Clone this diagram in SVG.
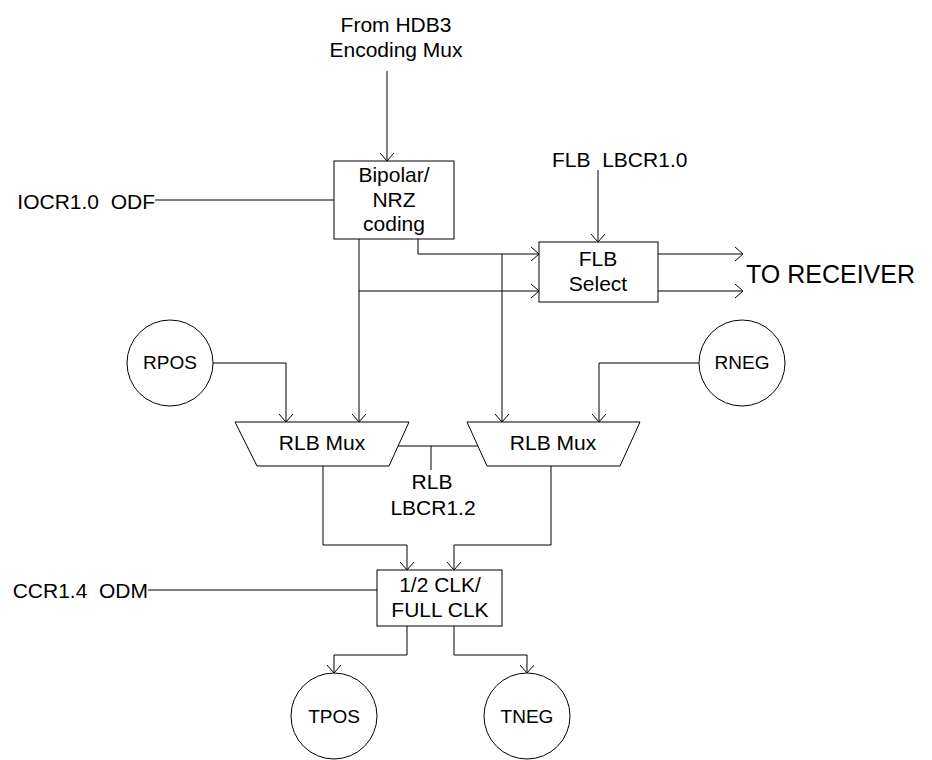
<svg xmlns="http://www.w3.org/2000/svg" width="932" height="760" viewBox="0 0 932 760">
<defs>
<marker id="arr" markerWidth="20" markerHeight="20" refX="10" refY="10" orient="auto" markerUnits="userSpaceOnUse" viewBox="0 0 20 20">
<path d="M2 3 L10 10 L2 17" fill="none" stroke="#000" stroke-width="1"/>
</marker>
<style>
text{font-family:"Liberation Sans",Arial,sans-serif;fill:#000;white-space:pre}
.t{font-size:21px}
.c{font-size:19px}
.m{text-anchor:middle}
.e{text-anchor:end}
.box{fill:#fff;stroke:#000;stroke-width:1}
.ln{fill:none;stroke:#000;stroke-width:1}
.ar{marker-end:url(#arr)}
</style>
</defs>
<g id="labels">
<text class="t m" x="396" y="32">From HDB3</text>
<text class="t m" x="396" y="57">Encoding Mux</text>
<text class="t e" x="155" y="209">IOCR1.0  ODF</text>
<text class="t" x="552" y="167">FLB  LBCR1.0</text>
<text x="746" y="283" style="font-size:25px">TO RECEIVER</text>
<text class="t m" x="432" y="489">RLB</text>
<text class="t m" x="433" y="515">LBCR1.2</text>
<text class="t e" x="148" y="598">CCR1.4  ODM</text>
</g>
<g id="connectors">
<path class="ln ar" d="M387 71 V161"/>
<path class="ln" d="M155 200 H334"/>
<path class="ln ar" d="M598 170 V242"/>
<path class="ln ar" d="M418 239 V254 H539"/>
<path class="ln ar" d="M359 291 H539"/>
<path class="ln ar" d="M359 239 V422"/>
<path class="ln ar" d="M502 254 V422"/>
<path class="ln ar" d="M658 254 H743"/>
<path class="ln ar" d="M658 291 H743"/>
<path class="ln ar" d="M213 363 H286 V422"/>
<path class="ln ar" d="M699 363 H599 V422"/>
<path class="ln" d="M398 446 H478 M431 446 V470"/>
<path class="ln ar" d="M323 466 V545 H407 V570"/>
<path class="ln ar" d="M551 466 V545 H454 V570"/>
<path class="ln" d="M148 590 H377"/>
<path class="ln ar" d="M407 626 V655 H334 V673"/>
<path class="ln ar" d="M454 626 V655 H527 V673"/>
</g>
<g id="bipolar">
<rect class="box" x="334" y="161" width="120" height="78"/>
<text class="t m" x="394" y="182">Bipolar/</text>
<text class="t m" x="394" y="207">NRZ</text>
<text class="t m" x="394" y="231">coding</text>
</g>
<g id="flb">
<rect class="box" x="539" y="242" width="119" height="60"/>
<text class="t m" x="598" y="266">FLB</text>
<text class="t m" x="598" y="291">Select</text>
</g>
<g id="rpos">
<circle class="box" cx="170" cy="363" r="43"/>
<text class="c m" x="170" y="369">RPOS</text>
</g>
<g id="rneg">
<circle class="box" cx="742" cy="363" r="43"/>
<text class="c m" x="742" y="369">RNEG</text>
</g>
<g id="mux1">
<path class="box" d="M235 422 H409 L389 466 H257 Z"/>
<text class="t m" x="322" y="450">RLB Mux</text>
</g>
<g id="mux2">
<path class="box" d="M467 422 H640 L620 466 H487 Z"/>
<text class="t m" x="553" y="450">RLB Mux</text>
</g>
<g id="clk">
<rect class="box" x="377" y="570" width="125" height="56"/>
<text class="t m" x="440" y="592">1/2 CLK/</text>
<text class="t m" x="440" y="617">FULL CLK</text>
</g>
<g id="tpos">
<circle class="box" cx="334" cy="716" r="43"/>
<text class="c m" x="334" y="723">TPOS</text>
</g>
<g id="tneg">
<circle class="box" cx="527" cy="716" r="43"/>
<text class="c m" x="527" y="723">TNEG</text>
</g>
</svg>
